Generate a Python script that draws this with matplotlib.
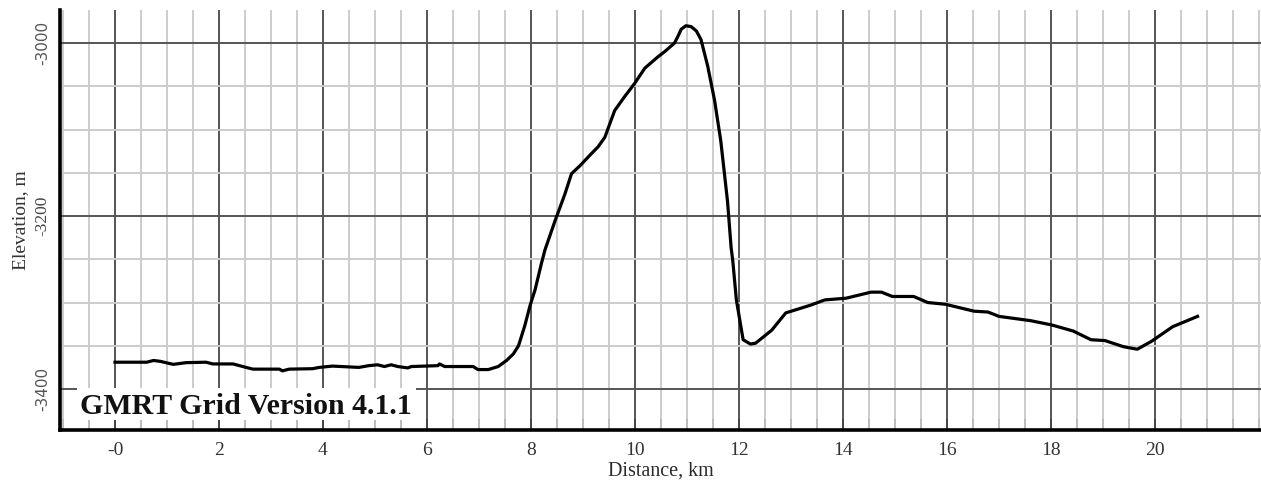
import matplotlib
matplotlib.use('Agg')
import matplotlib.pyplot as plt
from matplotlib.ticker import MultipleLocator
from matplotlib.patches import Rectangle

# profil (km, m)
distance_km = [0.0, 0.3, 0.61, 0.74, 0.87, 1.12, 1.37, 1.75, 1.88, 2.27, 2.52, 2.65,
               3.16, 3.22, 3.35, 3.8, 3.93, 4.18, 4.69, 4.88, 5.05, 5.18, 5.31, 5.44,
               5.63, 5.7, 6.21, 6.24, 6.34, 6.89, 6.98, 7.18, 7.37, 7.53, 7.66, 7.76,
               7.88, 7.98, 8.08, 8.2, 8.27, 8.46, 8.65, 8.78, 8.94, 9.16, 9.29, 9.42,
               9.61, 9.8, 9.99, 10.19, 10.44, 10.57, 10.76, 10.82, 10.89, 10.98, 11.08,
               11.18, 11.27, 11.4, 11.53, 11.65, 11.78, 11.85, 11.88, 11.95, 12.08,
               12.22, 12.32, 12.63, 12.9, 13.38, 13.65, 14.06, 14.54, 14.74, 14.95,
               15.36, 15.63, 15.97, 16.52, 16.79, 17.0, 17.61, 18.02, 18.43, 18.77,
               19.04, 19.39, 19.66, 19.93, 20.34, 20.82]
elevation_m = [-3369, -3369, -3369, -3367, -3368, -3371.5, -3369.5, -3369, -3371, -3371,
               -3375, -3377, -3377, -3379, -3377, -3376.5, -3375, -3373.5, -3375, -3373,
               -3372, -3374, -3372, -3374, -3375.6, -3374, -3373, -3371, -3374, -3374,
               -3377.5, -3377.5, -3374, -3367, -3359.5, -3350, -3327, -3304, -3285,
               -3255, -3239, -3206, -3175, -3151, -3142, -3128, -3120, -3109, -3078,
               -3062, -3047, -3029, -3016, -3010, -3000, -2993, -2984, -2980, -2981,
               -2986, -2996, -3027, -3066, -3113, -3183, -3237, -3251, -3297, -3343,
               -3348, -3347, -3332, -3312, -3303, -3297, -3295, -3288, -3288, -3293,
               -3293, -3300, -3302, -3310, -3311, -3316, -3321, -3326, -3333, -3343,
               -3344, -3351, -3354, -3345, -3328, -3316]

x_ticks = [0, 2, 4, 6, 8, 10, 12, 14, 16, 18, 20]
x_labels = ['-0', '2', '4', '6', '8', '10', '12', '14', '16', '18', '20']
y_ticks = [-3400, -3200, -3000]
y_labels = ['-3400', '-3200', '-3000']
version_text = 'GMRT Grid Version 4.1.1'

fig = plt.figure(figsize=(12.61, 4.82), dpi=100)
ax = fig.add_axes([60 / 1261, 52.5 / 482, 1201 / 1261, 419.5 / 482])

ax.plot(distance_km, elevation_m, color='black', linewidth=2.3, zorder=3,
        solid_joinstyle='round')

ax.set_xlim(-1.058, 22.04)
ax.set_ylim(-3446.8, -2961.8)

ax.set_xticks(x_ticks)
ax.set_xticklabels(x_labels)
ax.set_yticks(y_ticks)
ax.set_yticklabels(y_labels)
ax.xaxis.set_minor_locator(MultipleLocator(0.5))
ax.yaxis.set_minor_locator(MultipleLocator(50))

ax.set_axisbelow(True)
ax.grid(which='major', color='#555555', linewidth=1.4)
ax.grid(which='minor', color='#cccccc', linewidth=1.4)

for s in ['top', 'right']:
    ax.spines[s].set_visible(False)
ax.spines['left'].set_linewidth(2.6)
ax.spines['bottom'].set_linewidth(2.6)

ax.tick_params(axis='x', which='major', direction='in', length=8, width=1.3,
               color='#444444', pad=9, labelsize=14, labelcolor='#333333')
ax.tick_params(axis='x', which='minor', direction='in', length=8, width=1.3,
               color='#bbbbbb')
ax.tick_params(axis='y', which='both', length=0, pad=7, labelsize=12.5,
               labelcolor='#444444')
for lab in ax.get_xticklabels():
    lab.set_family('Liberation Serif')
# dans l'original -3000 et -3400 sont en sans-serif, -3200 en serif
for lab in ax.get_yticklabels():
    if lab.get_text() == '-3200':
        lab.set_family('Liberation Serif')
    else:
        lab.set_family('DejaVu Sans')
        lab.set_fontsize(11)
        lab.set_color('#555555')
    lab.set_rotation(90)
    lab.set_va('center')
    lab.set_ha('right')

ax.set_xlabel('Distance, km', family='Liberation Serif', fontsize=14.5,
              color='#2a2a2a', labelpad=2)
ax.set_ylabel('Elevation, m', family='Liberation Serif', fontsize=14,
              color='#333333', labelpad=4)

# cartouche blanc en bas a gauche
ax.add_patch(Rectangle((17 / 1201, 9.5 / 419.5), 339 / 1201, 32 / 419.5,
                       transform=ax.transAxes, facecolor='white',
                       edgecolor='none', zorder=2))
ax.text(20 / 1201, 23.5 / 419.5, version_text, transform=ax.transAxes,
        family='Liberation Serif', fontweight='bold', fontsize=21.5,
        color='#111111', ha='left', va='center', zorder=4)

fig.savefig('out.png', dpi=100)
plt.close(fig)
